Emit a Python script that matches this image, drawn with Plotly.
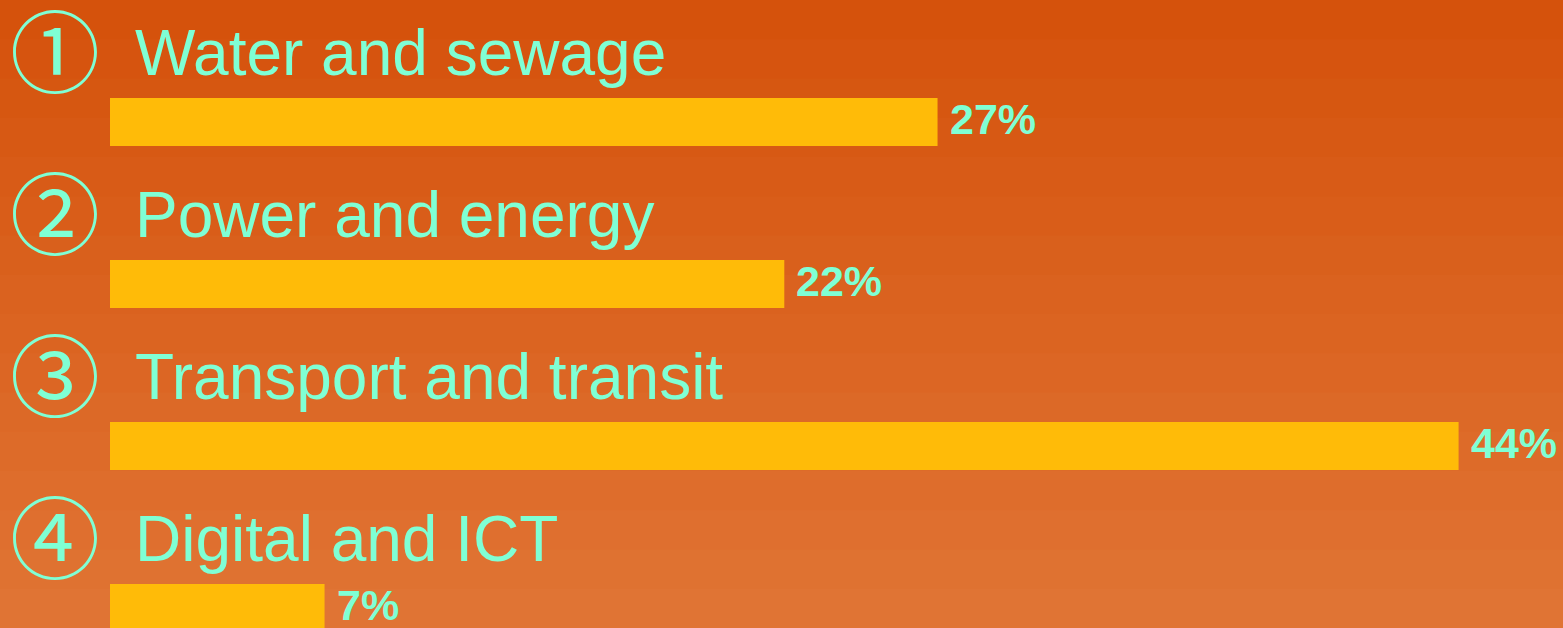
import plotly.graph_objects as go

categories = ["Water and sewage", "Power and energy", "Transport and transit", "Digital and ICT"]
markers = ["①", "②", "③", "④"]
shares = [27, 22, 44, 7]

W, H = 1563, 628
TEXT_COLOR = "#7FFFD4"
BAR_COLOR = "#FFBB08"

fig = go.Figure()
fig.add_trace(go.Bar(
    x=shares, y=categories, orientation="h", base=0,
    marker=dict(color=BAR_COLOR, line=dict(width=0)),
    width=0.296, hoverinfo="skip", cliponaxis=True,
))

# background gradient bands (overlapping slightly to avoid seams)
top = (213, 82, 12)
bot = (224, 116, 52)
n = 16
shapes = []
for i in range(n):
    t = i / (n - 1)
    c = tuple(round(top[k] + (bot[k] - top[k]) * t) for k in range(3))
    shapes.append(dict(type="rect", xref="paper", yref="paper", layer="below",
                       x0=-0.01, x1=1.01, y0=max(-0.01, 1 - (i + 1) / n - 0.004), y1=1.01 if i == 0 else 1 - i / n,
                       fillcolor="rgb(%d,%d,%d)" % c, line=dict(width=0)))

annotations = []
for m, cat, v in zip(markers, categories, shares):
    annotations.append(dict(text=m, xref="paper", yref="y", x=54.5 / W, y=cat,
                            xanchor="center", yanchor="middle", yshift=75, showarrow=False,
                            font=dict(family="Noto Sans CJK JP", size=90, color=TEXT_COLOR)))
    annotations.append(dict(text=cat, xref="paper", yref="y", x=133 / W, y=cat,
                            xanchor="left", yanchor="middle", yshift=69, showarrow=False,
                            font=dict(family="Liberation Sans, Arial", size=64, color=TEXT_COLOR)))
    annotations.append(dict(text="<b>%d%%</b>" % v, xref="x", yref="y", x=v, y=cat,
                            xanchor="left", yanchor="middle", xshift=10, yshift=3, showarrow=False,
                            font=dict(family="Liberation Sans, Arial", size=43, color=TEXT_COLOR)))

px_per = 30.65
fig.update_layout(
    width=W, height=H, margin=dict(l=0, r=0, t=0, b=0),
    paper_bgcolor="rgb(218,100,32)", plot_bgcolor="rgba(0,0,0,0)",
    showlegend=False, shapes=shapes, annotations=annotations,
    xaxis=dict(range=[-110 / px_per, (W - 110) / px_per], visible=False, fixedrange=True),
    yaxis=dict(type="category", categoryorder="array", categoryarray=categories,
               range=[3 + 20 / 162, -122 / 162], visible=False, fixedrange=True),
)
fig.write_html("out.html", config={"displayModeBar": False},
               post_script="document.body.style.margin='0';document.body.style.overflow='hidden';")
